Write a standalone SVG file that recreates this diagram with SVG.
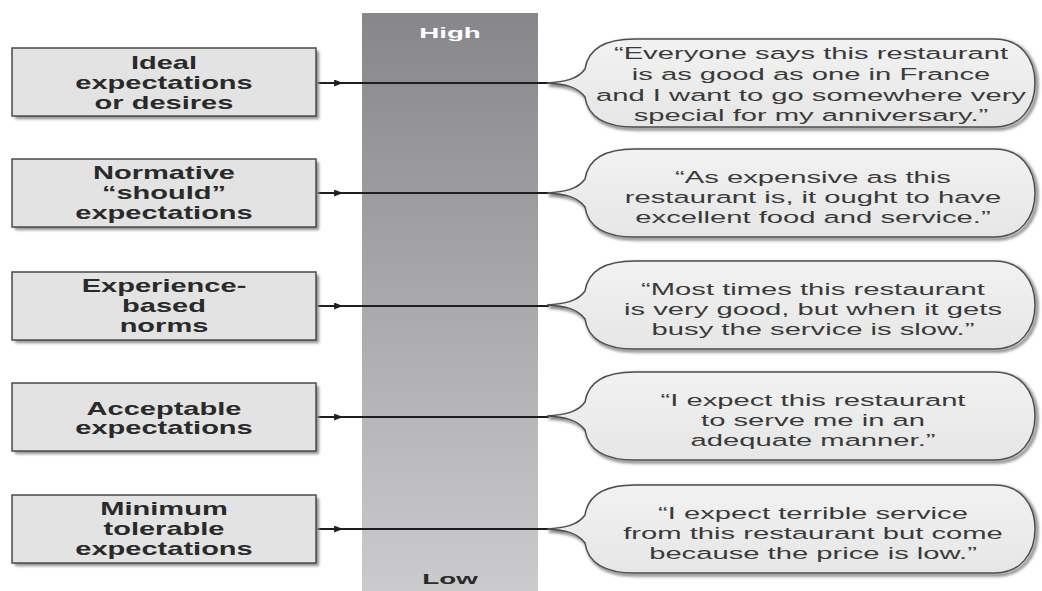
<svg xmlns="http://www.w3.org/2000/svg" width="1042" height="591" viewBox="0 0 1042 591">
<defs>
<linearGradient id="bar" x1="0" y1="0" x2="0" y2="1">
<stop offset="0" stop-color="#87878b"/>
<stop offset="1" stop-color="#cbcbcd"/>
</linearGradient>
<linearGradient id="bub" x1="0" y1="0" x2="0" y2="1">
<stop offset="0" stop-color="#f2f2f2"/>
<stop offset="1" stop-color="#e6e6e6"/>
</linearGradient>
<filter id="sh" x="-5%" y="-10%" width="115%" height="130%">
<feGaussianBlur stdDeviation="1.5"/>
</filter>
<marker id="arr" viewBox="0 0 10 8" refX="9" refY="4" markerWidth="9" markerHeight="7" markerUnits="userSpaceOnUse" orient="auto">
<path d="M0,0 L10,4 L0,8 Z" fill="#1e1e1e"/>
</marker>
<path id="bubble" d="M547,0 C565,-1 578,-4 585,-14 C588,-34 605,-44 635,-44 L995,-44 C1020,-44 1035,-25 1035,0 C1035,25 1020,44 995,44 L635,44 C605,44 588,34 585,14 C578,4 565,1 547,0 Z"/>
</defs>
<style>
.box{fill:#e3e3e3;stroke:#4a4a4a;stroke-width:1.5}
.bshadow{fill:#8d8d8d;filter:url(#sh)}
.bub{fill:url(#bub);stroke:#4d4d4d;stroke-width:1.5}
.bubsh{fill:none;stroke:#7a7a7a;stroke-width:3;filter:url(#sh)}
.lbl{font-family:"Liberation Sans",Arial,sans-serif;font-weight:bold;font-size:17.5px;fill:#2a2a2a;text-anchor:middle}
.quote{font-family:"Liberation Sans",Arial,sans-serif;font-size:16.5px;fill:#3a3a3a;text-anchor:middle}
.conn{stroke:#1e1e1e;stroke-width:2;fill:none}
</style>
<rect id="scale-bar" x="362" y="13" width="176" height="578" fill="url(#bar)"/>
<g transform="translate(450,0) scale(1.85,1)"><text x="0" y="38" style="font-family:'Liberation Sans',Arial,sans-serif;font-weight:bold;font-size:15px;fill:#ffffff;text-anchor:middle">High</text></g>
<g transform="translate(450,0) scale(1.85,1)"><text x="0" y="584" style="font-family:'Liberation Sans',Arial,sans-serif;font-weight:bold;font-size:15px;fill:#2a2a2a;text-anchor:middle">Low</text></g>

<g id="connectors">
<line class="conn" x1="316" y1="83" x2="342" y2="83" marker-end="url(#arr)"/><line class="conn" x1="340" y1="83" x2="549" y2="83"/>
<line class="conn" x1="316" y1="193" x2="342" y2="193" marker-end="url(#arr)"/><line class="conn" x1="340" y1="193" x2="549" y2="193"/>
<line class="conn" x1="316" y1="306" x2="342" y2="306" marker-end="url(#arr)"/><line class="conn" x1="340" y1="306" x2="549" y2="306"/>
<line class="conn" x1="316" y1="417" x2="342" y2="417" marker-end="url(#arr)"/><line class="conn" x1="340" y1="417" x2="549" y2="417"/>
<line class="conn" x1="316" y1="529" x2="342" y2="529" marker-end="url(#arr)"/><line class="conn" x1="340" y1="529" x2="549" y2="529"/>
</g>

<g id="box1">
<rect class="bshadow" x="15" y="51" width="304" height="68"/>
<rect class="box" x="12" y="48" width="304" height="68"/>
<g transform="translate(164,0) scale(1.66,1)">
<text class="lbl" x="0" y="69">Ideal</text>
<text class="lbl" x="0" y="89">expectations</text>
<text class="lbl" x="0" y="109">or desires</text>
</g>
</g>
<g id="box2">
<rect class="bshadow" x="15" y="162" width="304" height="68"/>
<rect class="box" x="12" y="159" width="304" height="68"/>
<g transform="translate(164,0) scale(1.66,1)">
<text class="lbl" x="0" y="179">Normative</text>
<text class="lbl" x="0" y="199">“should”</text>
<text class="lbl" x="0" y="219">expectations</text>
</g>
</g>
<g id="box3">
<rect class="bshadow" x="15" y="275" width="304" height="68"/>
<rect class="box" x="12" y="272" width="304" height="68"/>
<g transform="translate(164,0) scale(1.66,1)">
<text class="lbl" x="0" y="292">Experience-</text>
<text class="lbl" x="0" y="312">based</text>
<text class="lbl" x="0" y="332">norms</text>
</g>
</g>
<g id="box4">
<rect class="bshadow" x="15" y="386" width="304" height="68"/>
<rect class="box" x="12" y="383" width="304" height="68"/>
<g transform="translate(164,0) scale(1.66,1)">
<text class="lbl" x="0" y="415">Acceptable</text>
<text class="lbl" x="0" y="434">expectations</text>
</g>
</g>
<g id="box5">
<rect class="bshadow" x="15" y="498" width="304" height="68"/>
<rect class="box" x="12" y="495" width="304" height="68"/>
<g transform="translate(164,0) scale(1.66,1)">
<text class="lbl" x="0" y="515">Minimum</text>
<text class="lbl" x="0" y="535">tolerable</text>
<text class="lbl" x="0" y="555">expectations</text>
</g>
</g>

<g id="bubble1">
<use href="#bubble" class="bubsh" transform="translate(2,85)"/>
<use href="#bubble" class="bub" transform="translate(0,83)"/>
<g transform="translate(811,0) scale(1.77,1)">
<text class="quote" x="0" y="59">“Everyone says this restaurant</text>
<text class="quote" x="0" y="80">is as good as one in France</text>
<text class="quote" x="0" y="101">and I want to go somewhere very</text>
<text class="quote" x="0" y="121">special for my anniversary.”</text>
</g>
</g>
<g id="bubble2">
<use href="#bubble" class="bubsh" transform="translate(2,195)"/>
<use href="#bubble" class="bub" transform="translate(0,193)"/>
<g transform="translate(813,0) scale(1.77,1)">
<text class="quote" x="0" y="183">“As expensive as this</text>
<text class="quote" x="0" y="203">restaurant is, it ought to have</text>
<text class="quote" x="0" y="223">excellent food and service.”</text>
</g>
</g>
<g id="bubble3">
<use href="#bubble" class="bubsh" transform="translate(2,307)"/>
<use href="#bubble" class="bub" transform="translate(0,305)"/>
<g transform="translate(813,0) scale(1.77,1)">
<text class="quote" x="0" y="295">“Most times this restaurant</text>
<text class="quote" x="0" y="315">is very good, but when it gets</text>
<text class="quote" x="0" y="335">busy the service is slow.”</text>
</g>
</g>
<g id="bubble4">
<use href="#bubble" class="bubsh" transform="translate(2,418)"/>
<use href="#bubble" class="bub" transform="translate(0,416)"/>
<g transform="translate(813,0) scale(1.77,1)">
<text class="quote" x="0" y="406">“I expect this restaurant</text>
<text class="quote" x="0" y="426">to serve me in an</text>
<text class="quote" x="0" y="446">adequate manner.”</text>
</g>
</g>
<g id="bubble5">
<use href="#bubble" class="bubsh" transform="translate(2,531)"/>
<use href="#bubble" class="bub" transform="translate(0,529)"/>
<g transform="translate(813,0) scale(1.77,1)">
<text class="quote" x="0" y="519">“I expect terrible service</text>
<text class="quote" x="0" y="539">from this restaurant but come</text>
<text class="quote" x="0" y="559">because the price is low.”</text>
</g>
</g>
</svg>
